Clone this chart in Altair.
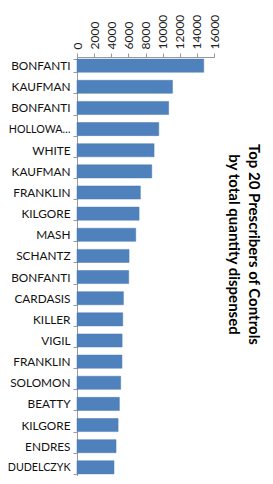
import altair as alt
import pandas as pd

names = ["BONFANTI", "KAUFMAN", "BONFANTI", "HOLLOWA\u2026", "WHITE", "KAUFMAN",
         "FRANKLIN", "KILGORE", "MASH", "SCHANTZ", "BONFANTI", "CARDASIS",
         "KILLER", "VIGIL", "FRANKLIN", "SOLOMON", "BEATTY", "KILGORE",
         "ENDRES", "DUDELCZYK"]
values = [14800, 11150, 10700, 9550, 9000, 8730, 7400, 7250, 6860, 6080,
          6040, 5420, 5340, 5270, 5250, 5100, 4950, 4800, 4560, 4320]
x_ticks = [0, 2000, 4000, 6000, 8000, 10000, 12000, 14000, 16000]

df = pd.DataFrame({"idx": list(range(len(names))), "name": names, "value": values})

label_expr = "[" + ",".join('"%s"' % n for n in names) + "][datum.value]"

chart = alt.Chart(df).mark_bar(color="#4F81BD", stroke="#4A7AB5", strokeWidth=0.5).encode(
    x=alt.X("value:Q", scale=alt.Scale(domain=[0, 16000], nice=False),
            axis=alt.Axis(orient="top", values=x_ticks, title=None, grid=False, format="d",
                          labelAngle=-90, labelAlign="left", labelBaseline="middle",
                          labelFont="Lato", labelFontSize=12, labelColor="#222222",
                          domainColor="#999999", tickColor="#999999", tickSize=4,
                          labelPadding=4)),
    y=alt.Y("idx:O", sort=None,
            scale=alt.Scale(paddingInner=0.38, paddingOuter=0.1),
            axis=alt.Axis(title=None, labelExpr=label_expr, tickBand="extent",
                          labelFont="Lato",
                          labelFontSize=alt.condition("datum.value == 3 || datum.value == 19",
                                                      alt.value(10.7), alt.value(11.8)),
                          labelColor="#111111",
                          domainColor="#999999", tickColor="#999999", tickSize=4,
                          labelPadding=3, labelLimit=100)),
).properties(
    width=137, height=419,
    autosize=alt.AutoSizeParams(type="none"),
    padding={"left": 69, "top": 49, "right": 51, "bottom": 0},
    title=alt.TitleParams(["Top 20 Prescribers of Controls", "by total quantity dispensed"],
                          orient="right", angle=90, anchor="middle", font="Lato",
                          fontSize=15, fontWeight="bold", color="#000000",
                          offset=6, lineHeight=20, dx=-22),
).configure_view(stroke=None)

chart.save("out.html", embed_options={"renderer": "svg", "actions": False})
